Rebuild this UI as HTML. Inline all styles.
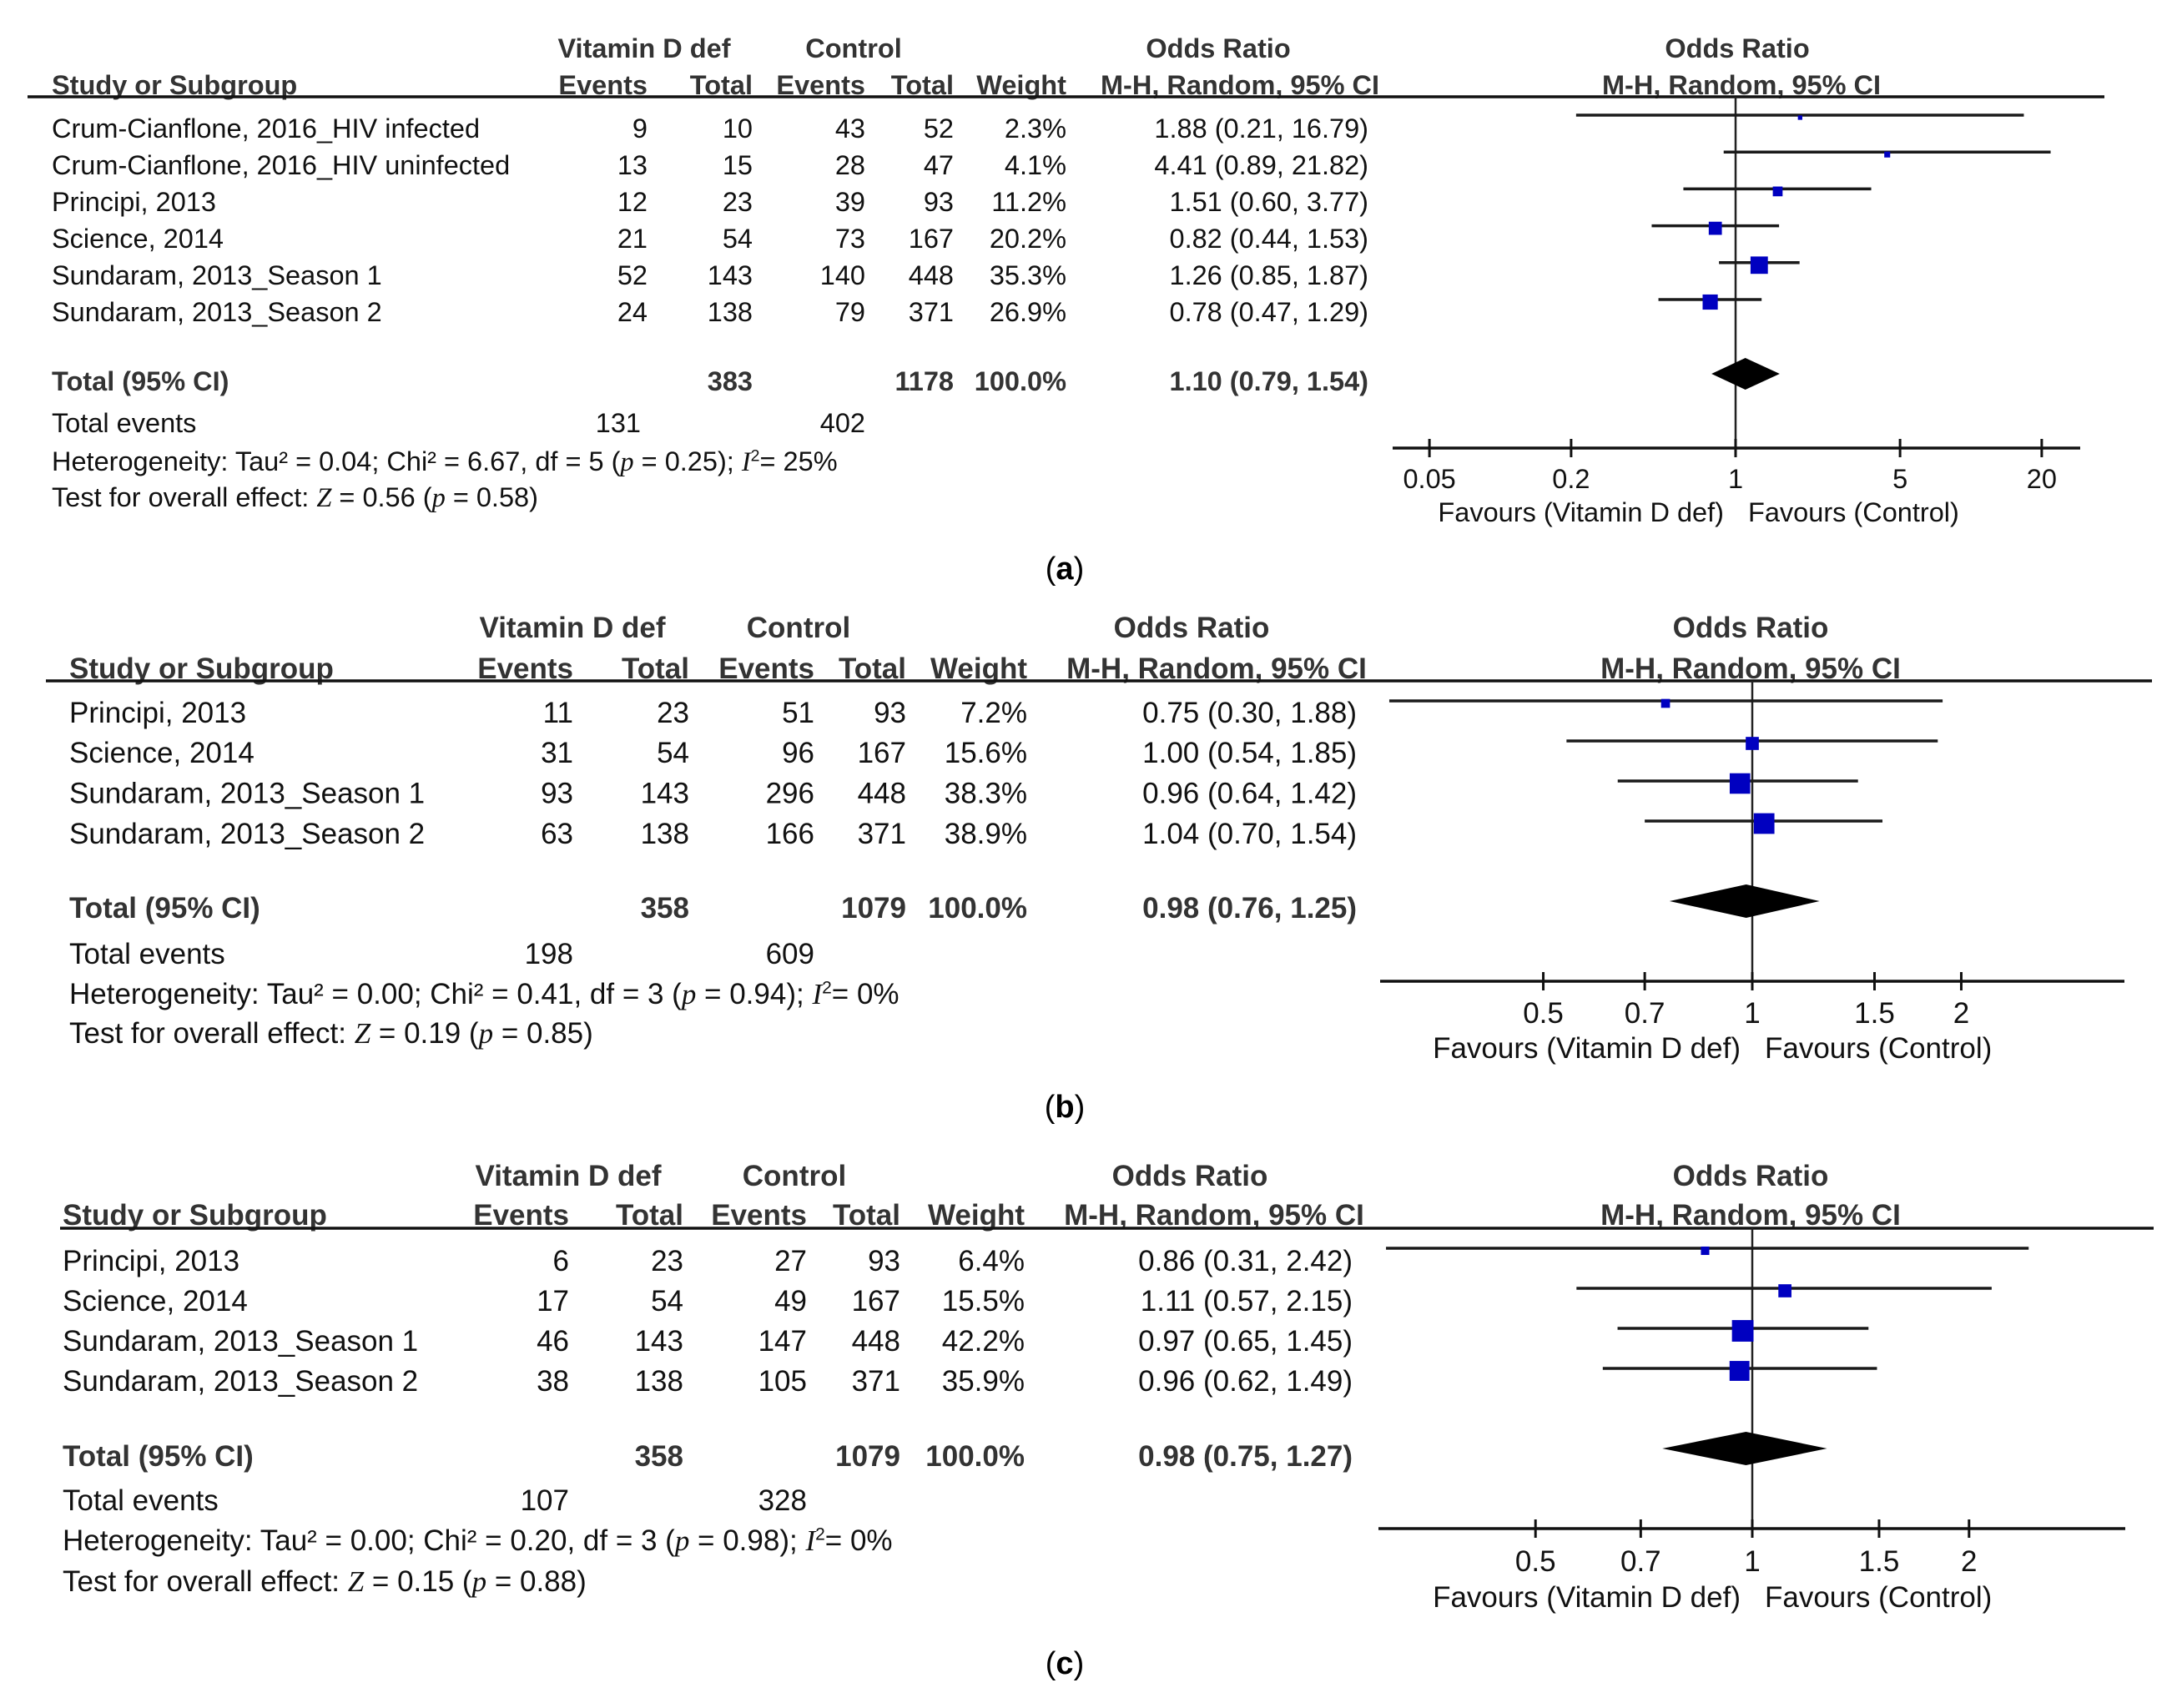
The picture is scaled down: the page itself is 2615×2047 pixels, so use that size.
<!DOCTYPE html>
<html><head><meta charset="utf-8">
<style>
html,body{margin:0;padding:0;background:#fff;}
svg{display:block;}
text{font-family:"Liberation Sans",Arial,sans-serif;}
.hd{font-weight:bold;fill:#333;}
.bd{fill:#111;}
.it{font-family:"Liberation Serif",serif;font-style:italic;}
</style></head>
<body>
<svg id="fig" width="2615" height="2047" viewBox="0 0 2615 2047" xmlns="http://www.w3.org/2000/svg"></svg>
<script>
// ---------- Panel (a) data ----------
const studiesA = ["Crum-Cianflone, 2016_HIV infected","Crum-Cianflone, 2016_HIV uninfected","Principi, 2013","Science, 2014","Sundaram, 2013_Season 1","Sundaram, 2013_Season 2"];
const evDefA = [9,13,12,21,52,24];
const totDefA = [10,15,23,54,143,138];
const evCtlA = [43,28,39,73,140,79];
const totCtlA = [52,47,93,167,448,371];
const weightA = [2.3,4.1,11.2,20.2,35.3,26.9];
const orA = [1.88,4.41,1.51,0.82,1.26,0.78];
const loA = [0.21,0.89,0.60,0.44,0.85,0.47];
const hiA = [16.79,21.82,3.77,1.53,1.87,1.29];
const pooledA = [1.10,0.79,1.54];
const totalsA = [383,1178,131,402];
const ticksA = [0.05,0.2,1,5,20];
const hetA = ["0.04","6.67","5","0.25","25%"];
const zA = ["0.56","0.58"];

// ---------- Panel (b) data ----------
const studiesB = ["Principi, 2013","Science, 2014","Sundaram, 2013_Season 1","Sundaram, 2013_Season 2"];
const evDefB = [11,31,93,63];
const totDefB = [23,54,143,138];
const evCtlB = [51,96,296,166];
const totCtlB = [93,167,448,371];
const weightB = [7.2,15.6,38.3,38.9];
const orB = [0.75,1.00,0.96,1.04];
const loB = [0.30,0.54,0.64,0.70];
const hiB = [1.88,1.85,1.42,1.54];
const pooledB = [0.98,0.76,1.25];
const totalsB = [358,1079,198,609];
const ticksB = [0.5,0.7,1,1.5,2];
const hetB = ["0.00","0.41","3","0.94","0%"];
const zB = ["0.19","0.85"];

// ---------- Panel (c) data ----------
const studiesC = ["Principi, 2013","Science, 2014","Sundaram, 2013_Season 1","Sundaram, 2013_Season 2"];
const evDefC = [6,17,46,38];
const totDefC = [23,54,143,138];
const evCtlC = [27,49,147,105];
const totCtlC = [93,167,448,371];
const weightC = [6.4,15.5,42.2,35.9];
const orC = [0.86,1.11,0.97,0.96];
const loC = [0.31,0.57,0.65,0.62];
const hiC = [2.42,2.15,1.45,1.49];
const pooledC = [0.98,0.75,1.27];
const totalsC = [358,1079,107,328];
const ticksC = [0.5,0.7,1,1.5,2];
const hetC = ["0.00","0.20","3","0.98","0%"];
const zC = ["0.15","0.88"];

const NS = "http://www.w3.org/2000/svg";
const svg = document.getElementById("fig");

function mk(tag, attrs, parent, txt){
  const e = document.createElementNS(NS, tag);
  for (const k in attrs) e.setAttribute(k, attrs[k]);
  if (txt !== undefined) e.textContent = txt;
  (parent || svg).appendChild(e);
  return e;
}
function txt(parent, x, y, s, cls, anchor, fs, name){
  const t = mk("text", {x:x, y:y, "class":cls, "text-anchor":anchor||"start", "font-size":fs}, parent, s);
  
  
  return t;
}
function fmt(v){ return v.toFixed(2); }

function drawPanel(L, D){
  const g = mk("g", {});
  
  
  const fs = L.fs;
  const xs = v => L.x1 + Math.log10(v) * L.dec;
  const off = fs * 0.34;

  // headers
  txt(g, L.cVit, L.h1 + off, "Vitamin D def", "hd", "middle", fs, "header-vitamin-d-def");
  txt(g, L.cCtl, L.h1 + off, "Control", "hd", "middle", fs, "header-control");
  txt(g, L.cOR, L.h1 + off, "Odds Ratio", "hd", "middle", fs, "header-odds-ratio");
  txt(g, L.cOR2, L.h1 + off, "Odds Ratio", "hd", "middle", fs, "plot-header-odds-ratio");
  txt(g, L.xStudy, L.h2 + off, "Study or Subgroup", "hd", "start", fs, "header-study");
  txt(g, L.xEv, L.h2 + off, "Events", "hd", "end", fs, "header-events-def");
  txt(g, L.xTot, L.h2 + off, "Total", "hd", "end", fs, "header-total-def");
  txt(g, L.xEv2, L.h2 + off, "Events", "hd", "end", fs, "header-events-control");
  txt(g, L.xTot2, L.h2 + off, "Total", "hd", "end", fs, "header-total-control");
  txt(g, L.xW, L.h2 + off, "Weight", "hd", "end", fs, "header-weight");
  txt(g, L.cMH, L.h2 + off, "M-H, Random, 95% CI", "hd", "middle", fs, "header-mh-random");
  txt(g, L.cMH2, L.h2 + off, "M-H, Random, 95% CI", "hd", "middle", fs, "plot-header-mh-random");

  const hl = mk("line", {x1:L.lineL, x2:L.lineR, y1:L.hLine, y2:L.hLine, stroke:"#111", "stroke-width":3.5}, g);
  
  

  const vl = mk("line", {x1:xs(1), x2:xs(1), y1:L.hLine, y2:L.axisY, stroke:"#222", "stroke-width":2.5}, g);
  
  

  D.studies.forEach((s, i) => {
    const ty = L.row0 + i * L.rowStep + off;
    txt(g, L.xStudy, ty, s, "bd", "start", fs, "study-name");
    txt(g, L.xEv, ty, String(D.evDef[i]), "bd", "end", fs, "events-def");
    txt(g, L.xTot, ty, String(D.totDef[i]), "bd", "end", fs, "total-def");
    txt(g, L.xEv2, ty, String(D.evCtl[i]), "bd", "end", fs, "events-control");
    txt(g, L.xTot2, ty, String(D.totCtl[i]), "bd", "end", fs, "total-control");
    txt(g, L.xW, ty, D.weight[i].toFixed(1) + "%", "bd", "end", fs, "weight");
    txt(g, L.xOR, ty, fmt(D.or[i]) + " (" + fmt(D.lo[i]) + ", " + fmt(D.hi[i]) + ")", "bd", "end", fs, "odds-ratio-ci");

    const ly = L.line0 + i * L.lineStep;
    const ci = mk("line", {x1:xs(D.lo[i]), x2:xs(D.hi[i]), y1:ly, y2:ly, stroke:"#1a1a1a", "stroke-width":3.5}, g);
    
    
    const side = L.sq * Math.sqrt(D.weight[i]);
    const sq = mk("rect", {x:xs(D.or[i]) - side/2, y:ly + 3 - side/2, width:side, height:side, fill:"#0000c0"}, g);
    
    
  });

  const tty = L.totY + off;
  txt(g, L.xStudy, tty, "Total (95% CI)", "hd", "start", fs, "total-label");
  txt(g, L.xTot, tty, String(D.totals[0]), "hd", "end", fs, "total-n-def");
  txt(g, L.xTot2, tty, String(D.totals[1]), "hd", "end", fs, "total-n-control");
  txt(g, L.xW, tty, "100.0%", "hd", "end", fs, "total-weight");
  txt(g, L.xOR, tty, fmt(D.pooled[0]) + " (" + fmt(D.pooled[1]) + ", " + fmt(D.pooled[2]) + ")", "hd", "end", fs, "pooled-or");
  const cx = xs(D.pooled[0]), lx = xs(D.pooled[1]), rx = xs(D.pooled[2]);
  const dm = mk("polygon", {points:`${lx},${L.diaY} ${cx},${L.diaY-L.diaH} ${rx},${L.diaY} ${cx},${L.diaY+L.diaH}`, fill:"#000"}, g);
  
  

  const tey = L.evY + off;
  txt(g, L.xStudy, tey, "Total events", "bd", "start", fs, "total-events-label");
  txt(g, L.xEv + L.teOff, tey, String(D.totals[2]), "bd", "end", fs, "total-events-def");
  txt(g, L.xEv2, tey, String(D.totals[3]), "bd", "end", fs, "total-events-control");

  const h = mk("text", {x:L.xStudy, y:L.hetY + off, "font-size":fs, "class":"bd"}, g);
  
  
  mk("tspan", {}, h, "Heterogeneity: Tau² = " + D.het[0] + "; Chi² = " + D.het[1] + ", df = " + D.het[2] + " (");
  mk("tspan", {"class":"it"}, h, "p");
  mk("tspan", {}, h, " = " + D.het[3] + "); ");
  mk("tspan", {"class":"it"}, h, "I");
  mk("tspan", {"font-size":fs*0.6, dy:-fs*0.35}, h, "2");
  mk("tspan", {dy:fs*0.35}, h, "= " + D.het[4]);

  const z = mk("text", {x:L.xStudy, y:L.zY + off, "font-size":fs, "class":"bd"}, g);
  
  
  mk("tspan", {}, z, "Test for overall effect: ");
  mk("tspan", {"class":"it"}, z, "Z");
  mk("tspan", {}, z, " = " + D.z[0] + " (");
  mk("tspan", {"class":"it"}, z, "p");
  mk("tspan", {}, z, " = " + D.z[1] + ")");

  const ax = mk("line", {x1:L.axL, x2:L.axR, y1:L.axisY, y2:L.axisY, stroke:"#111", "stroke-width":3.5}, g);
  
  
  D.ticks.forEach(t => {
    const tk = mk("line", {x1:xs(t), x2:xs(t), y1:L.axisY-11, y2:L.axisY+11, stroke:"#111", "stroke-width":3}, g);
    
    
    txt(g, xs(t), L.tickY + off, String(t), "bd", "middle", fs, "x-tick-label");
  });
  const fy = L.favY + off;
  txt(g, xs(1) - 14, fy, "Favours (Vitamin D def)", "bd", "end", fs, "favours-vitamin-d-def");
  txt(g, xs(1) + 15, fy, "Favours (Control)", "bd", "start", fs, "favours-control");

  const lab = mk("text", {x:1276, y:L.labY + 13, "text-anchor":"middle", "font-size":38, "font-family":"Liberation Serif, serif", fill:"#000"}, g);
  
  
  mk("tspan", {}, lab, "(");
  mk("tspan", {"font-weight":"bold"}, lab, L.label);
  mk("tspan", {}, lab, ")");
}

drawPanel({name:"panel-a", label:"a", fs:32.5, x1:2080, dec:282,
  h1:58, h2:102, hLine:116, lineL:33, lineR:2522,
  xStudy:62, xEv:776, xTot:902, xEv2:1037, xTot2:1143, xW:1278, xOR:1640,
  cVit:772, cCtl:1023, cOR:1460, cMH:1486, cOR2:2082, cMH2:2087,
  row0:154, rowStep:44, line0:138, lineStep:44.2, sq:3.5,
  totY:457, diaY:448, diaH:19, evY:507, teOff:-8, hetY:553, zY:596,
  axisY:537, axL:1669, axR:2493, tickY:574, favY:614, labY:681},
  {studies:studiesA, evDef:evDefA, totDef:totDefA, evCtl:evCtlA, totCtl:totCtlA, weight:weightA,
   or:orA, lo:loA, hi:hiA, pooled:pooledA, totals:totalsA, ticks:ticksA, het:hetA, z:zA});

drawPanel({name:"panel-b", label:"b", fs:35, x1:2100, dec:832,
  h1:752, h2:801, hLine:816, lineL:55, lineR:2579,
  xStudy:83, xEv:687, xTot:826, xEv2:976, xTot2:1086, xW:1231, xOR:1626,
  cVit:686, cCtl:957, cOR:1428, cMH:1458, cOR2:2098, cMH2:2098,
  row0:854, rowStep:48.3, line0:840, lineStep:48, sq:3.97,
  totY:1088, diaY:1080, diaH:20, evY:1143, teOff:0, hetY:1191, zY:1238,
  axisY:1176, axL:1654, axR:2546, tickY:1214, favY:1256, labY:1326},
  {studies:studiesB, evDef:evDefB, totDef:totDefB, evCtl:evCtlB, totCtl:totCtlB, weight:weightB,
   or:orB, lo:loB, hi:hiB, pooled:pooledB, totals:totalsB, ticks:ticksB, het:hetB, z:zB});

drawPanel({name:"panel-c", label:"c", fs:35, x1:2100, dec:863,
  h1:1409, h2:1456, hLine:1472, lineL:72, lineR:2581,
  xStudy:75, xEv:682, xTot:819, xEv2:967, xTot2:1079, xW:1228, xOR:1621,
  cVit:681, cCtl:952, cOR:1426, cMH:1455, cOR2:2098, cMH2:2098,
  row0:1511, rowStep:48, line0:1496, lineStep:48, sq:3.98,
  totY:1745, diaY:1736, diaH:20, evY:1798, teOff:0, hetY:1846, zY:1895,
  axisY:1832, axL:1652, axR:2547, tickY:1871, favY:1914, labY:1993},
  {studies:studiesC, evDef:evDefC, totDef:totDefC, evCtl:evCtlC, totCtl:totCtlC, weight:weightC,
   or:orC, lo:loC, hi:hiC, pooled:pooledC, totals:totalsC, ticks:ticksC, het:hetC, z:zC});
</script>
</body></html>
